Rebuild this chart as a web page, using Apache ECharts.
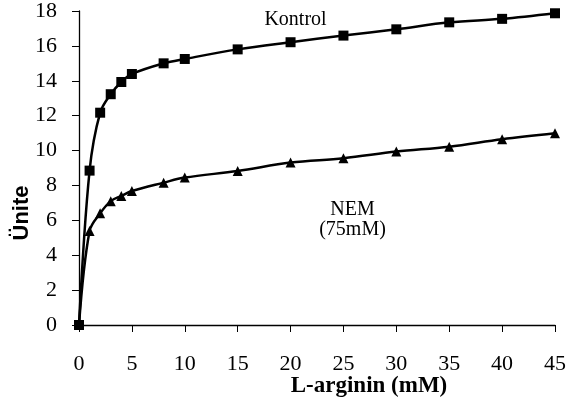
<!DOCTYPE html>
<html>
<head>
<meta charset="utf-8">
<script src="https://cdn.jsdelivr.net/npm/echarts@6/dist/echarts.min.js"></script>
<style>html,body{margin:0;padding:0;background:#fff}#c{width:569px;height:405px}</style>
</head>
<body>
<div id="c"></div>
<script>
var xValues = [0, 1, 2, 3, 4, 5, 8, 10, 15, 20, 25, 30, 35, 40, 45];
var kontrol = [0, 8.85, 12.17, 13.23, 13.93, 14.39, 15.0, 15.25, 15.8, 16.21, 16.59, 16.95, 17.35, 17.55, 17.87];
var nem = [0, 5.39, 6.4, 7.1, 7.4, 7.68, 8.16, 8.45, 8.83, 9.31, 9.56, 9.94, 10.22, 10.65, 10.99];
var xTicks = [0, 5, 10, 15, 20, 25, 30, 35, 40, 45];
var yTicks = [0, 2, 4, 6, 8, 10, 12, 14, 16, 18];
var xTitle = 'L-arginin (mM)';
var yTitle = 'Ünite';

function pairs(xs, ys) { return xs.map(function (x, i) { return [x, ys[i]]; }); }

var chart = echarts.init(document.getElementById('c'), null, { renderer: 'canvas' });
var serif = '"Liberation Serif", "Times New Roman", serif';
var sans = '"Liberation Sans", Arial, sans-serif';
chart.setOption({
  animation: false,
  backgroundColor: '#fff',
  grid: { left: 79, right: 14, top: 11, bottom: 80, containLabel: false },
  xAxis: {
    type: 'value', min: xTicks[0], max: xTicks[xTicks.length - 1], interval: 5,
    axisLine: { lineStyle: { color: '#000', width: 1.3 } },
    axisTick: { show: true, inside: false, length: 7, lineStyle: { color: '#000' } },
    axisLabel: { fontFamily: serif, fontSize: 22, color: '#000', margin: 28 },
    splitLine: { show: false }
  },
  yAxis: {
    type: 'value', min: yTicks[0], max: yTicks[yTicks.length - 1], interval: 2,
    axisLine: { show: true, lineStyle: { color: '#000', width: 1.3 } },
    axisTick: { show: true, inside: false, length: 7, lineStyle: { color: '#000' } },
    axisLabel: { fontFamily: serif, fontSize: 22, color: '#000', margin: 22 },
    splitLine: { show: false }
  },
  series: [
    {
      name: 'NEM', type: 'line', data: pairs(xValues, nem), smooth: 0.35,
      symbol: 'triangle', symbolSize: 10,
      itemStyle: { color: '#000' }, lineStyle: { color: '#000', width: 2.5 }
    },
    {
      name: 'Kontrol', type: 'line', data: pairs(xValues, kontrol), smooth: 0.35,
      symbol: 'rect', symbolSize: 10,
      itemStyle: { color: '#000' }, lineStyle: { color: '#000', width: 2.5 }
    }
  ],
  graphic: [
    { type: 'text', x: 295.5, y: 20, style: { text: 'Kontrol', font: '20px ' + serif, fill: '#000', textAlign: 'center', textVerticalAlign: 'middle' } },
    { type: 'text', x: 352.5, y: 210, style: { text: 'NEM', font: '20px ' + serif, fill: '#000', textAlign: 'center', textVerticalAlign: 'middle' } },
    { type: 'text', x: 352.5, y: 230, style: { text: '(75mM)', font: '20px ' + serif, fill: '#000', textAlign: 'center', textVerticalAlign: 'middle' } },
    { type: 'text', x: 369, y: 386, style: { text: xTitle, font: 'bold 23px ' + serif, fill: '#000', textAlign: 'center', textVerticalAlign: 'middle' } },
    { type: 'text', x: 22, y: 213, rotation: Math.PI / 2, style: { text: yTitle, font: 'bold 22px ' + sans, fill: '#000', textAlign: 'center', textVerticalAlign: 'middle' } }
  ]
});
</script>
</body>
</html>
